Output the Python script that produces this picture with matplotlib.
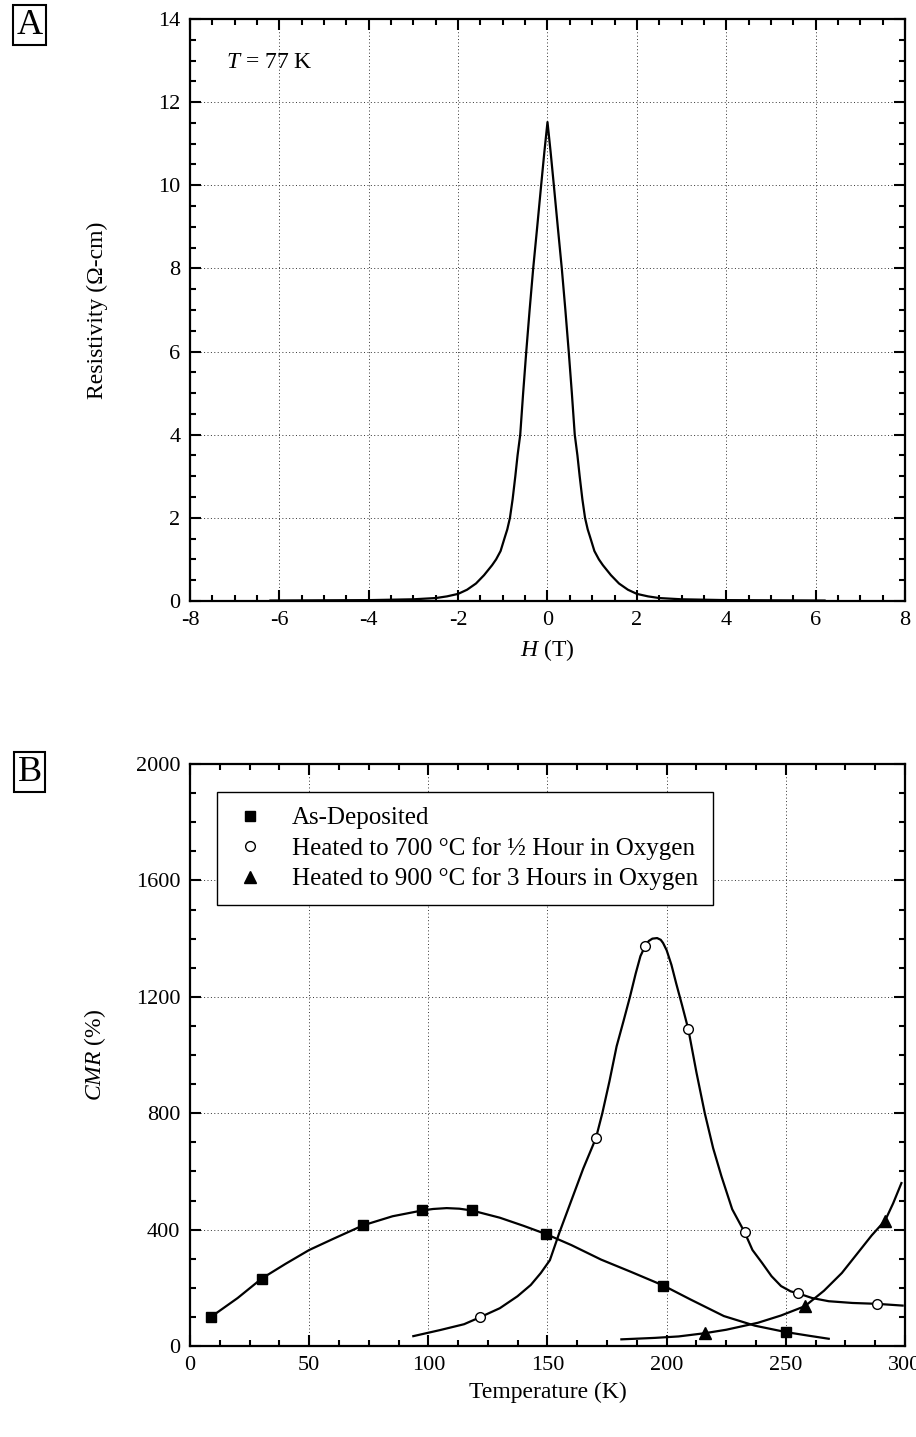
#!/usr/bin/env python3

import matplotlib
matplotlib.use("Agg")
import matplotlib.pyplot as plt
from matplotlib.ticker import MultipleLocator

plt.rcParams["font.family"] = ["Liberation Serif", "DejaVu Serif"]
plt.rcParams["mathtext.fontset"] = "custom"
plt.rcParams["mathtext.it"] = "Liberation Serif:italic"
plt.rcParams["mathtext.rm"] = "Liberation Serif"
plt.rcParams["axes.unicode_minus"] = False

# panel A: resistivity vs field at 77 K (symmetric)
field_pos = [0.0, 0.07, 0.142, 0.23, 0.32, 0.4, 0.475, 0.545, 0.61, 0.67, 0.72,
             0.78, 0.84, 0.9, 0.95, 1.05, 1.15, 1.24, 1.42, 1.6, 1.8, 2.0, 2.25,
             2.5, 3.0, 4.0, 6.2]
rho_pos = [11.52, 10.8, 10.0, 9.0, 8.0, 7.0, 6.0, 5.0, 4.0, 3.5, 3.0,
           2.45, 2.0, 1.72, 1.55, 1.2, 1.0, 0.86, 0.62, 0.42, 0.27, 0.17, 0.11,
           0.07, 0.04, 0.02, 0.01]
field = [-h for h in field_pos[::-1]] + field_pos[1:]
rho = rho_pos[::-1] + rho_pos[1:]

# panel B: CMR vs temperature
temp_dep = [8.8, 30.1, 72.7, 97.5, 118.2, 149.3, 198.6, 250.0]
cmr_dep = [100, 232, 415, 466, 466, 385, 208, 48]
temp_700 = [121.7, 170.3, 190.9, 209.1, 232.7, 255.2, 288.3]
cmr_700 = [99, 714, 1375, 1088, 391, 181, 145]
temp_900 = [215.9, 258.0, 291.7]
cmr_900 = [44, 137, 430]

# fitted curves drawn through the points
fit_dep_t = [8.8, 20, 30.1, 40, 50, 60, 72.7, 85, 97.5, 102, 107.7, 113, 118.2,
             130, 140, 149.3, 160, 172.5, 185, 198.6, 210, 224, 237, 250, 260, 268]
fit_dep_c = [100, 165, 232, 282, 330, 368, 415, 446, 466, 471, 474, 472, 466,
             441, 413, 385, 347, 297, 255, 208, 160, 103, 70, 48, 35, 25]
fit_700_t = [93.7, 105, 115, 121.7, 130, 137.4, 143, 147.2, 151, 155, 160, 165,
             170.3, 173, 176, 179, 182, 184.6, 187, 189, 191, 192.5, 194, 196,
             197.5, 198.5, 200, 202, 204, 206.5, 209.1, 212.5, 216, 219.5, 223,
             227.5, 232.7, 236, 240, 244, 248, 252, 255.2, 261, 268, 278, 288.3,
             299]
fit_700_c = [34, 55, 75, 99, 130, 171, 210, 251, 295, 390, 500, 610,
             714, 800, 910, 1030, 1120, 1200, 1280, 1340, 1375, 1392, 1400, 1402,
             1396, 1385, 1360, 1310, 1246, 1170, 1088, 940, 800, 680, 583,
             470, 391, 330, 286, 240, 206, 188, 181, 165, 154, 148, 145,
             139]
fit_900_t = [181, 195, 205, 215.9, 225, 238.3, 248, 258, 266, 273.5, 280, 286,
             291.7, 295, 298.5]
fit_900_c = [23, 28, 33, 44, 56, 80, 105, 137, 190, 251, 318, 380,
             432, 490, 560]

fs = 16
fig = plt.figure(figsize=(9.16, 14.37), dpi=100)
ax1 = fig.add_axes([0.2074, 0.5818, 0.7806, 0.405])
ax2 = fig.add_axes([0.2074, 0.0633, 0.7806, 0.405])


def style_axes(ax):
    for s in ax.spines.values():
        s.set_linewidth(1.6)
    ax.tick_params(which="both", direction="in", top=True, right=True,
                   labelsize=fs, width=1.5)
    ax.tick_params(which="major", length=8, pad=7)
    ax.tick_params(which="minor", length=4.5)
    ax.grid(True, which="major", color="#333333", linestyle=(0, (1, 2.5)),
            linewidth=0.7)
    ax.set_axisbelow(True)


ax1.plot(field, rho, color="black", lw=1.6)
ax1.set_xlim(-8, 8)
ax1.set_ylim(0, 14)
ax1.xaxis.set_major_locator(MultipleLocator(2))
ax1.xaxis.set_minor_locator(MultipleLocator(0.5))
ax1.yaxis.set_major_locator(MultipleLocator(2))
ax1.yaxis.set_minor_locator(MultipleLocator(0.5))
style_axes(ax1)
ax1.set_xlabel(r"$\mathit{H}$ (T)", fontsize=fs + 1, labelpad=5)
ax1.set_ylabel("Resistivity (Ω-cm)", fontsize=fs + 1)
ax1.yaxis.set_label_coords(-0.114, 0.5)
ax1.text(0.05, 0.925, r"$\mathit{T}$ = 77 K", transform=ax1.transAxes,
         fontsize=fs + 1, va="center", ha="left")

ax2.plot(fit_dep_t, fit_dep_c, color="black", lw=1.6)
ax2.plot(fit_700_t, fit_700_c, color="black", lw=1.6)
ax2.plot(fit_900_t, fit_900_c, color="black", lw=1.6)
ax2.plot(temp_dep, cmr_dep, ls="none", marker="s", ms=6.5, color="black",
         label="As-Deposited", zorder=3)
ax2.plot(temp_700, cmr_700, ls="none", marker="o", ms=7, mfc="white",
         mec="black", mew=1.0, label="Heated to 700 °C for ½ Hour in Oxygen",
         zorder=3)
ax2.plot(temp_900, cmr_900, ls="none", marker="^", ms=8, color="black",
         label="Heated to 900 °C for 3 Hours in Oxygen", zorder=3)
ax2.set_xlim(0, 300)
ax2.set_ylim(0, 2000)
ax2.xaxis.set_major_locator(MultipleLocator(50))
ax2.xaxis.set_minor_locator(MultipleLocator(12.5))
ax2.yaxis.set_major_locator(MultipleLocator(400))
ax2.yaxis.set_minor_locator(MultipleLocator(100))
style_axes(ax2)
ax2.set_xlabel("Temperature (K)", fontsize=fs + 1, labelpad=5)
ax2.set_ylabel(r"$\mathit{CMR}$ (%)", fontsize=fs + 1)
ax2.yaxis.set_label_coords(-0.114, 0.5)
leg = ax2.legend(loc="upper left", bbox_to_anchor=(0.038, 0.952),
                 fontsize=fs + 2, frameon=True, fancybox=False,
                 edgecolor="black", framealpha=1, handlelength=1.4,
                 handletextpad=1.0, borderpad=0.6, labelspacing=0.3,
                 borderaxespad=0)
leg.get_frame().set_linewidth(1.0)

for label, y in (("A", 0.9825), ("B", 0.4625)):
    fig.text(0.0325, y, label, fontsize=26, ha="center", va="center",
             bbox=dict(boxstyle="square,pad=0.1", fc="white", ec="black",
                       lw=1.5))

fig.savefig("out.png", dpi=100)
